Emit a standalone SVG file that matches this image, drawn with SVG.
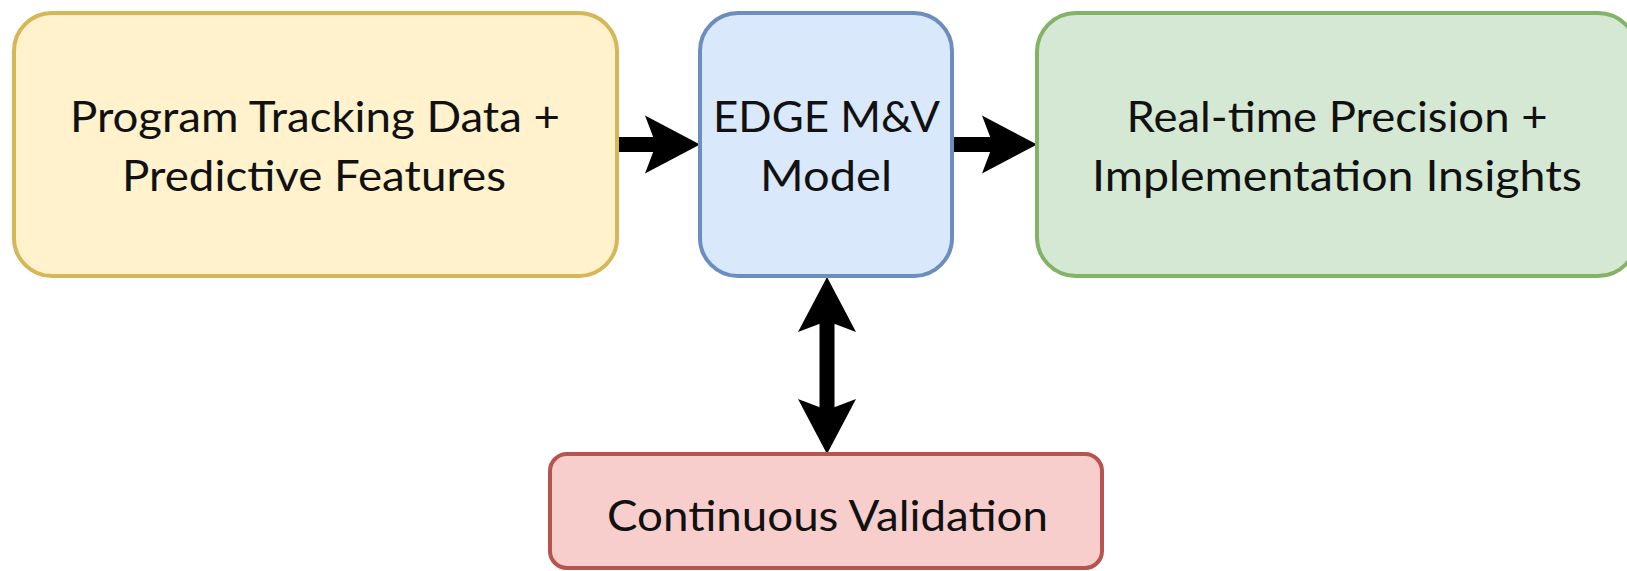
<svg xmlns="http://www.w3.org/2000/svg" width="1627" height="571" viewBox="0 0 1627 571">
<style>
.box{stroke-width:4}
.lbl{font-family:Lato,"Open Sans",sans-serif;font-size:43px;fill:#111;text-anchor:middle}
.shaft{stroke:#000;stroke-width:15;fill:none}
.head{fill:#000;stroke:none}
</style>
<rect width="1627" height="571" fill="#fff"/>
<g id="connectors">
<line class="shaft" x1="617" y1="144.5" x2="656" y2="144.5"/>
<path class="head" d="M700,144.5 L645,115.5 L656,144.5 L645,173.5 Z"/>
<line class="shaft" x1="952" y1="144.5" x2="993" y2="144.5"/>
<path class="head" d="M1037,144.5 L982,115.5 L993,144.5 L982,173.5 Z"/>
<line class="shaft" x1="827" y1="321" x2="827" y2="411"/>
<path class="head" d="M827,277 L798,332 L827,321 L856,332 Z"/>
<path class="head" d="M827,454 L798,399 L827,410 L856,399 Z"/>
</g>
<g id="node-input">
<rect class="box" x="14" y="13" width="603" height="263" rx="38" fill="#fff2cc" stroke="#d6b656"/>
<text class="lbl" x="315" y="132" textLength="490" lengthAdjust="spacingAndGlyphs">Program Tracking Data +</text>
<text class="lbl" x="314" y="191" textLength="384" lengthAdjust="spacingAndGlyphs">Predictive Features</text>
</g>
<g id="node-model">
<rect class="box" x="700" y="13" width="252" height="263" rx="38" fill="#dae8fc" stroke="#6c8ebf"/>
<text class="lbl" x="826.5" y="132" textLength="227" lengthAdjust="spacingAndGlyphs">EDGE M&amp;V</text>
<text class="lbl" x="826" y="191" textLength="132" lengthAdjust="spacingAndGlyphs">Model</text>
</g>
<g id="node-output">
<rect class="box" x="1037" y="13" width="600" height="263" rx="39" fill="#d5e8d4" stroke="#82b366"/>
<text class="lbl" x="1337" y="132" textLength="421" lengthAdjust="spacingAndGlyphs">Real-time Precision +</text>
<text class="lbl" x="1337" y="191" textLength="490" lengthAdjust="spacingAndGlyphs">Implementation Insights</text>
</g>
<g id="node-validation">
<rect class="box" x="550" y="454" width="552" height="114" rx="17" fill="#f8cecc" stroke="#b85450"/>
<text class="lbl" x="827.5" y="531" textLength="441" lengthAdjust="spacingAndGlyphs">Continuous Validation</text>
</g>
</svg>
